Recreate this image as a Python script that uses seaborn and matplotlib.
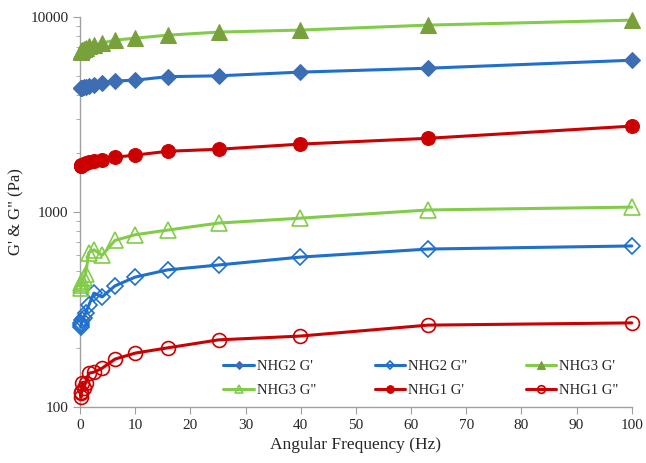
import matplotlib
matplotlib.use("Agg")
import matplotlib.pyplot as plt
import seaborn as sns
import numpy as np
from matplotlib.ticker import FixedLocator, NullFormatter, LogLocator

sns.set_style("white")
plt.rcParams['font.family'] = ['Liberation Serif', 'DejaVu Serif']

freq = [0.1, 0.158, 0.251, 0.398, 0.631, 1.0, 1.585, 2.51, 3.98, 6.31, 10.0, 15.85, 25.1, 39.8, 63.1, 100.0]

nhg2_gp = [4320, 4330, 4340, 4350, 4360, 4380, 4430, 4480, 4580, 4700, 4750, 4950, 5000, 5220, 5470, 6010]
nhg2_gpp = [257, 262, 269, 278, 286, 303, 333, 384, 367, 418, 464, 505, 535, 587, 646, 670]
nhg3_gp = [6620, 6680, 6740, 6800, 6880, 6950, 7100, 7180, 7360, 7620, 7800, 8080, 8380, 8580, 9100, 9650]
nhg3_gpp = [420, 410, 430, 445, 460, 480, 620, 640, 600, 715, 765, 808, 878, 930, 1025, 1060]
nhg1_gp = [1720, 1730, 1740, 1750, 1770, 1780, 1800, 1830, 1850, 1910, 1960, 2050, 2100, 2230, 2390, 2760]
nhg1_gpp = [118, 112, 120, 133, 125, 133, 149, 151, 158, 176, 189, 201, 221, 231, 263, 270]

labels = ["NHG2 G'", "NHG2 G\"", "NHG3 G'", "NHG3 G\"", "NHG1 G'", "NHG1 G\""]
series = [nhg2_gp, nhg2_gpp, nhg3_gp, nhg3_gpp, nhg1_gp, nhg1_gpp]

blue_line = "#1f6fcf"
blue_mark = "#3d6eb4"
green_line = "#82cc4a"
green_mark = "#78a03c"
red = "#cc0000"

styles = [
    dict(color=blue_line, marker="D", mfc=blue_mark, mec=blue_mark, ms=8),
    dict(color=blue_line, marker="D", mfc="none", mec=blue_line, ms=8, mew=1.2),
    dict(color=green_line, marker="^", mfc=green_mark, mec=green_mark, ms=11),
    dict(color=green_line, marker="^", mfc="none", mec=green_line, ms=11, mew=1.2),
    dict(color=red, marker="o", mfc=red, mec=red, ms=10),
    dict(color=red, marker="o", mfc="none", mec=red, ms=10, mew=1.2),
]

fig = plt.figure(figsize=(6.46, 4.63), dpi=100)
ax = fig.add_axes([0.124, 0.121, 0.854, 0.842])

for vals, lab, st in zip(series, labels, styles):
    sns.lineplot(x=freq, y=vals, ax=ax, label=lab, linewidth=2.2, clip_on=False, zorder=3, **st)

ax.set_yscale("log")
ax.set_xlim(0, 100)
ax.set_ylim(100, 10000)
ax.set_xticks(np.arange(0, 101, 10))
ax.yaxis.set_major_locator(FixedLocator([100, 1000, 10000]))
ax.yaxis.set_minor_locator(LogLocator(base=10, subs=np.arange(2, 10) * 1.0))
ax.yaxis.set_minor_formatter(NullFormatter())
ax.set_yticklabels(["100", "1000", "10000"])

for s in ["top", "right"]:
    ax.spines[s].set_visible(False)
for s in ["left", "bottom"]:
    ax.spines[s].set_color("#a0a0a0")
    ax.spines[s].set_linewidth(1.0)

ax.tick_params(axis="both", which="major", direction="out", length=5, color="#a0a0a0",
               labelsize=11, left=True, bottom=True)
ax.tick_params(axis="y", which="minor", direction="out", length=3, color="#a0a0a0", left=True)

ax.set_xlabel("Angular Frequency (Hz)", fontsize=12.5)
ax.set_ylabel("G' & G\" (Pa)", fontsize=12)

h, l = ax.get_legend_handles_labels()
order = [0, 3, 1, 4, 2, 5]
ax.legend([h[i] for i in order], [l[i] for i in order], ncol=3, frameon=False,
          loc="lower right", bbox_to_anchor=(1.0, -0.008), fontsize=10.5,
          handlelength=2.1, handletextpad=0.2, columnspacing=4.0, labelspacing=0.75,
          markerscale=0.55)

fig.savefig("out.png", dpi=100)
